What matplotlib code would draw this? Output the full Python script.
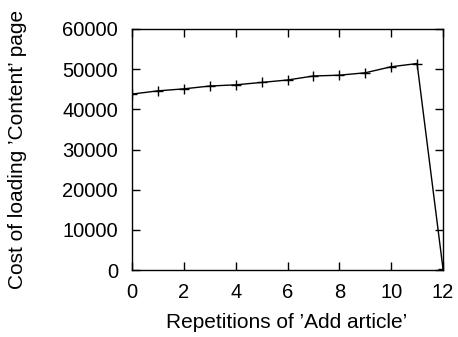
import matplotlib
matplotlib.use("Agg")
import matplotlib.pyplot as plt

repetitions = list(range(13))
cost = [43800, 44600, 45100, 45800, 46100, 46700, 47300, 48300, 48500, 49100, 50600, 51400, 300]
xticks = [0, 2, 4, 6, 8, 10, 12]
yticks = [0, 10000, 20000, 30000, 40000, 50000, 60000]

plt.rcParams['font.family'] = ['Liberation Sans', 'DejaVu Sans']
fig = plt.figure(figsize=(4.58, 3.37), dpi=100)
ax = fig.add_axes([132/458, 1-270/337, (443-132)/458, (270-29)/337])
ax.plot(repetitions, cost, color='black', lw=1, marker='+', markersize=7, mew=1)
ax.set_xlim(0, 12)
ax.set_ylim(0, 60000)
ax.set_xticks(xticks)
ax.set_yticks(yticks)
ax.tick_params(direction='in', top=True, right=True, labelsize=14.5, length=6, width=1, pad=9)
ax.tick_params(axis='y', pad=10)
for s in ax.spines.values():
    s.set_linewidth(1)
ax.set_xlabel("Repetitions of \u2019Add article\u2019", fontsize=15)
ax.set_ylabel("Cost of loading \u2019Content\u2019 page", fontsize=15)
ax.xaxis.set_label_coords((286.5-132)/311, -(323-270)/241)
ax.yaxis.set_label_coords((18-132)/311, 0.5)
ax.xaxis.label.set_va('center')
ax.yaxis.label.set_va('center')
fig.savefig("out.png", dpi=100)
